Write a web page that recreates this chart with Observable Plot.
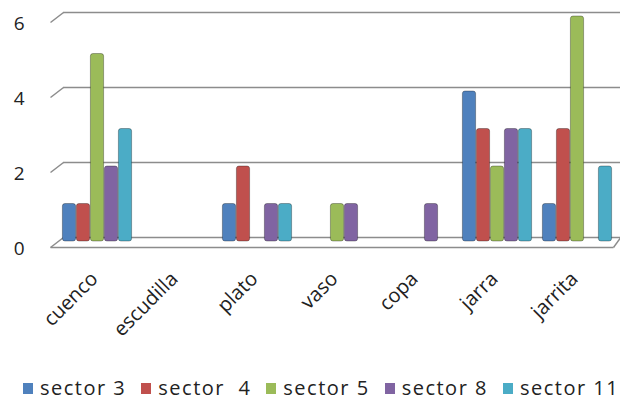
<!DOCTYPE html>
<html><head><meta charset="utf-8">
<script src="https://cdn.jsdelivr.net/npm/d3@7"></script>
<script src="https://cdn.jsdelivr.net/npm/@observablehq/plot@0.6"></script>
<style>
body{margin:0;background:#fff;width:620px;height:400px;position:relative;overflow:hidden;font-family:"Open Sans",sans-serif;}
#legend{position:absolute;left:23px;top:374px;line-height:28px;display:flex;align-items:center;font-size:20px;letter-spacing:1.5px;color:#222;white-space:pre;}
.item{display:flex;align-items:center;margin-right:15px}
.sw{width:10px;height:11px;margin-right:7px}
</style></head><body><div id="chart"></div><div id="legend"></div>
<script>
const categories = ["cuenco","escudilla","plato","vaso","copa","jarra","jarrita"];
const seriesNames = ["sector 3","sector  4","sector 5","sector 8","sector 11"];
const sector3  = [1,0,1,0,0,4,1];
const sector4  = [1,0,2,0,0,3,3];
const sector5  = [5,0,0,1,0,2,6];
const sector8  = [2,0,1,1,1,3,0];
const sector11 = [3,0,1,0,0,3,2];
const yTicks = [0,2,4,6];
const colors = ["#4F81BD","#C0504D","#9BBB59","#8064A2","#4BACC6"];

const seriesValues = [sector3, sector4, sector5, sector8, sector11];
const rows = [];
seriesValues.forEach((vals, j) => vals.forEach((v, i) => {
  if (v > 0) rows.push({category: categories[i], series: seriesNames[j], i, j, value: v});
}));

const step = 0.175, half = 0.0825;
const slantX0 = -0.0875, slantX1 = 0.075, slantY = 0.267, rightX = 7.04, floorRight = 6.95;
const gridColor = "#8c8c8c";

const chart = Plot.plot({
  width: 620, height: 370,
  marginLeft: 57, marginRight: 3, marginTop: 12, marginBottom: 133,
  x: {domain: [0, 7], axis: null},
  y: {domain: [0, 6], axis: null},
  color: {domain: seriesNames, range: colors},
  style: {fontFamily: "'Open Sans', sans-serif", background: "#fff", overflow: "visible"},
  marks: [
    Plot.ruleY(yTicks, {y: d => d, x1: () => slantX1, x2: () => rightX, stroke: gridColor, strokeWidth: 1.5}),
    Plot.link(yTicks, {x1: () => slantX0, y1: d => d - slantY, x2: () => slantX1, y2: d => d, stroke: gridColor, strokeWidth: 1.5}),
    Plot.link([0], {x1: () => slantX0, y1: () => -slantY, x2: () => floorRight, y2: () => -slantY, stroke: gridColor, strokeWidth: 1.5}),
    Plot.link([0], {x1: () => floorRight, y1: () => -slantY, x2: () => rightX, y2: () => 0, stroke: gridColor, strokeWidth: 1.5}),
    Plot.rect(rows, {
      x1: d => d.i + 0.5 + (d.j - 2) * step - half,
      x2: d => d.i + 0.5 + (d.j - 2) * step + half,
      y1: () => 0, y2: "value",
      fill: "series", stroke: "#000", strokeOpacity: 0.3, strokeWidth: 1,
      rx: 2.5, dy: 4
    }),
    Plot.text(yTicks, {x: () => 0, y: d => d, text: d => String(d), textAnchor: "end", dx: -33, dy: 11, fontSize: 19, fill: "#222"}),
    Plot.text(categories, {x: (d, i) => i + 0.5, y: () => 0, text: d => d, rotate: -45, textAnchor: "end", dx: -3, dy: 38, fontSize: 20, fill: "#222"})
  ]
});
document.getElementById("chart").appendChild(chart);

const legend = document.getElementById("legend");
seriesNames.forEach((name, j) => {
  const item = document.createElement("div");
  item.className = "item";
  const sw = document.createElement("span");
  sw.className = "sw";
  sw.style.background = colors[j];
  const label = document.createElement("span");
  label.textContent = name;
  item.appendChild(sw); item.appendChild(label);
  legend.appendChild(item);
});
</script></body></html>
